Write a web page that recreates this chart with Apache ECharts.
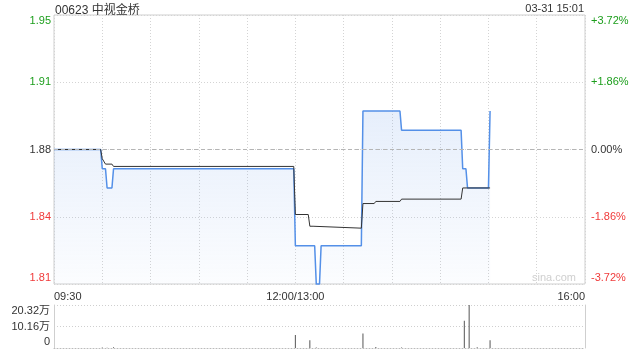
<!DOCTYPE html>
<html><head><meta charset="utf-8">
<script src="https://cdn.jsdelivr.net/npm/echarts@6/dist/echarts.min.js"></script>
<style>html,body{margin:0;padding:0;background:#fff}#c{width:640px;height:360px}</style>
</head><body><div id="c"></div>
<script>
const stockTitle = '00623 中视金桥';
const stampText = '03-31 15:01';
const watermark = 'sina.com';
const prevClose = 1.88;
const priceTicks = ['1.81', '1.84', '1.88', '1.91', '1.95'];
const pctTicks = ['-3.72%', '-1.86%', '0.00%', '+1.86%', '+3.72%'];
const pctMin = -3.72, pctMax = 3.72, pctStep = 1.86;
const timeTickMinutes = [0, 150, 330];
const timeTickText = ['09:30', '12:00/13:00', '16:00'];
const volTicks = ['0', '10.16万', '20.32万'];
const volMax = 20.32, volStep = 10.16;

// price line (minute index from 09:30, lunch collapsed)
const priceMin = [0, 29, 30, 32, 33, 36, 37, 149, 150, 162, 163, 165, 166, 191, 192, 215, 216, 253, 254, 256, 257, 270, 271];
const priceVal = [1.88, 1.88, 1.87, 1.87, 1.86, 1.86, 1.87, 1.87, 1.83, 1.83, 1.81, 1.81, 1.83, 1.83, 1.90, 1.90, 1.89, 1.89, 1.87, 1.87, 1.86, 1.86, 1.90];
// average price line
const avgMin = [0, 29, 30, 31, 32, 36, 37, 149, 150, 158, 159, 161, 162, 191, 192, 199, 200, 215, 216, 253, 254, 271];
const avgVal = [1.88, 1.88, 1.8752, 1.8752, 1.8724, 1.8724, 1.8712, 1.8712, 1.8462, 1.8462, 1.8401, 1.8401, 1.8391, 1.8391, 1.8519, 1.8519, 1.8530, 1.8530, 1.8542, 1.8542, 1.8600, 1.8600];
// volume (万)
const volMin = [30, 33, 37, 150, 159, 163, 192, 200, 216, 255, 258, 263, 271];
const volVal = [0.2, 0.15, 0.3, 6.2, 3.7, 0.2, 6.9, 0.5, 0.2, 12.9, 20.32, 0.4, 3.7];

const toPct = p => (p - prevClose) / prevClose * 100;
const FONT = '"Liberation Sans", Arial, "Noto Sans CJK SC", sans-serif';
const GREEN = '#1c9e1c', RED = '#f03a3a', DARK = '#333';

function edgeLabel(text, idx, last) {
  if (idx === last) return '\n' + text;
  if (idx === 0) return text + '\n';
  return text;
}
function pctIdx(v) { return Math.round((v - pctMin) / pctStep); }
function pctColor(v) { const i = pctIdx(v); return i > 2 ? GREEN : (i < 2 ? RED : DARK); }

const chart = echarts.init(document.getElementById('c'), null, {renderer: 'canvas'});
const dotted = {color: '#d4d4d4', type: [1, 2], width: 1};
chart.setOption({
  animation: false,
  textStyle: {fontFamily: FONT},
  grid: [
    {left: 54, right: 55, top: 15, height: 269, show: true, borderColor: '#cfcfcf', borderWidth: 1},
    {left: 54, right: 55, top: 305, height: 49}
  ],
  xAxis: [
    {type: 'value', gridIndex: 0, min: 0, max: 330, interval: 30,
     axisLine: {show: false, onZero: false}, axisTick: {show: false},
     splitLine: {show: true, lineStyle: dotted},
     axisLabel: {fontSize: 11, color: DARK, margin: 7, fontFamily: FONT,
       alignMinLabel: 'left', alignMaxLabel: 'right',
       formatter: v => { const i = timeTickMinutes.indexOf(Math.round(v)); return i >= 0 ? timeTickText[i] : ''; }}},
    {type: 'value', gridIndex: 1, min: 0, max: 330,
     axisLine: {show: true, onZero: false, lineStyle: {color: '#bbb', type: [1, 2]}},
     axisTick: {show: false}, axisLabel: {show: false}, splitLine: {show: false}}
  ],
  yAxis: [
    {type: 'value', gridIndex: 0, position: 'left', min: pctMin, max: pctMax, interval: pctStep,
     axisLine: {show: false}, axisTick: {show: false},
     splitLine: {show: true, lineStyle: dotted},
     axisLabel: {fontSize: 11, margin: 3, lineHeight: 12, fontFamily: FONT,
       color: v => pctColor(v),
       formatter: v => edgeLabel(priceTicks[pctIdx(v)], pctIdx(v), priceTicks.length - 1)}},
    {type: 'value', gridIndex: 0, position: 'right', min: pctMin, max: pctMax, interval: pctStep,
     axisLine: {show: false}, axisTick: {show: false}, splitLine: {show: false},
     axisLabel: {fontSize: 11, margin: 6, lineHeight: 12, fontFamily: FONT,
       color: v => pctColor(v),
       formatter: v => edgeLabel(pctTicks[pctIdx(v)], pctIdx(v), pctTicks.length - 1)}},
    {type: 'value', gridIndex: 1, position: 'left', min: 0, max: volMax, interval: volStep,
     axisLine: {show: true, lineStyle: {color: '#cfcfcf'}}, axisTick: {show: false},
     splitLine: {show: true, lineStyle: {color: '#cfcfcf', type: [1, 2]}},
     axisLabel: {fontSize: 11, margin: 4, lineHeight: 12, color: DARK, fontFamily: FONT,
       formatter: v => { const i = Math.round(v / volStep); return edgeLabel(volTicks[i], i, volTicks.length - 1); }}},
    {type: 'value', gridIndex: 1, position: 'right', min: 0, max: volMax,
     axisLine: {show: true, lineStyle: {color: '#cfcfcf'}}, axisTick: {show: false},
     axisLabel: {show: false}, splitLine: {show: false}}
  ],
  series: [
    {type: 'line', xAxisIndex: 0, yAxisIndex: 0, z: 1, data: [],
     markLine: {silent: true, symbol: 'none', label: {show: false},
       lineStyle: {color: '#b5b5b5', type: [4, 3], width: 1},
       data: [{yAxis: toPct(prevClose)}]}},
    {type: 'line', xAxisIndex: 0, yAxisIndex: 0, z: 3, showSymbol: false, clip: false,
     data: priceMin.map((m, i) => [m, toPct(priceVal[i])]),
     lineStyle: {color: '#5490e8', width: 1.5}, itemStyle: {color: '#5490e8'},
     areaStyle: {origin: 'start', color: new echarts.graphic.LinearGradient(0, 0, 0, 1, [
       {offset: 0, color: 'rgba(120,165,235,0.26)'}, {offset: 1, color: 'rgba(120,165,235,0.04)'}])}},
    {type: 'line', xAxisIndex: 0, yAxisIndex: 0, z: 4, showSymbol: false, clip: false,
     data: avgMin.map((m, i) => [m, toPct(avgVal[i])]),
     lineStyle: {color: '#333', width: 1}, itemStyle: {color: '#333'}},
    {type: 'bar', xAxisIndex: 1, yAxisIndex: 2, barWidth: 1,
     data: volMin.map((m, i) => [m, volVal[i]]),
     itemStyle: {color: '#555'}}
  ],
  graphic: [
    {type: 'text', left: 55, top: 5, style: {text: stockTitle, fontSize: 12, fill: DARK, fontFamily: FONT}},
    {type: 'text', right: 56, top: 3, style: {text: stampText, fontSize: 11, fill: DARK, fontFamily: FONT}},
    {type: 'text', left: 532, top: 272, style: {text: watermark, fontSize: 11, fill: '#cfcfcf', fontFamily: FONT}}
  ]
});
</script>
</body></html>
